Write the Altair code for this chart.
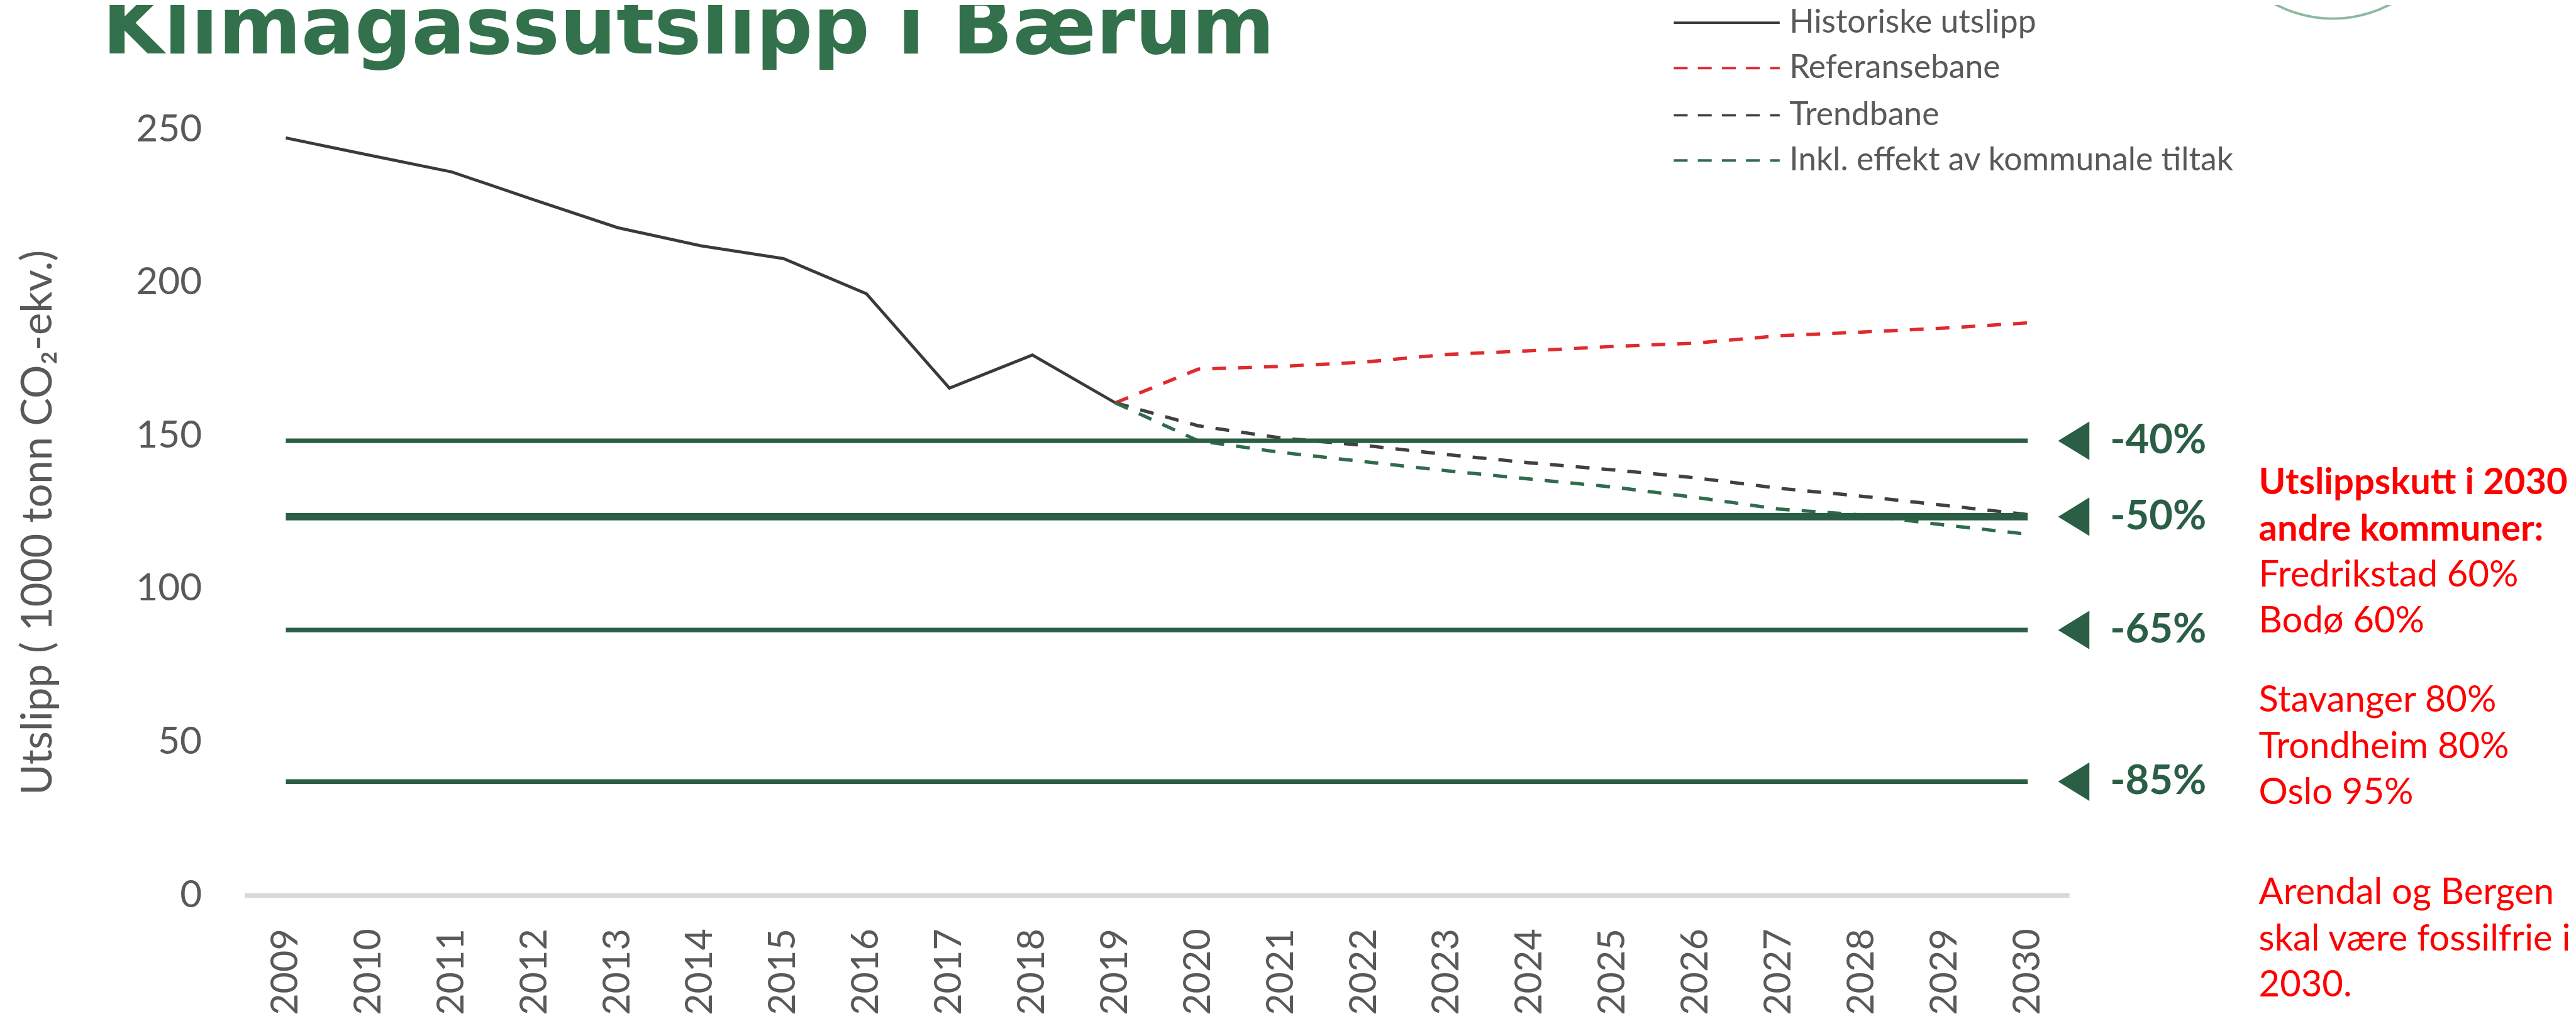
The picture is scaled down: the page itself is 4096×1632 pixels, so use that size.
import math
import altair as alt
import pandas as pd

# ---------------- data ----------------
years = [str(y) for y in range(2009, 2031)]
hist_years = [str(y) for y in range(2009, 2020)]
hist_values = [247.3, 241.7, 236.2, 227.0, 218.0, 212.1, 207.9, 196.4, 165.6, 176.4, 160.8]
proj_years = [str(y) for y in range(2019, 2031)]
ref_values = [160.8, 171.8, 172.7, 174.1, 176.6, 177.8, 179.2, 180.3, 182.7, 183.9, 185.2, 186.9]
trend_values = [160.8, 153.3, 149.3, 146.9, 143.9, 141.2, 138.9, 136.3, 132.9, 130.3, 127.3, 124.3]
tiltak_values = [160.8, 148.4, 144.6, 141.6, 138.6, 135.9, 133.3, 129.9, 126.1, 124.2, 120.9, 117.9]
target_labels = ["-40%", "-50%", "-65%", "-85%"]
target_values = [148.4, 123.6, 86.6, 37.1]
y_ticks = [0, 50, 100, 150, 200, 250]
legend_labels = ["Historiske utslipp", "Referansebane", "Trendbane",
                 "Inkl. effekt av kommunale tiltak"]
note_blocks = [
    "Utslippskutt i 2030\nandre kommuner:",
    "Fredrikstad 60%\nBodø 60%",
    "Stavanger 80%\nTrondheim 80%\nOslo 95%",
    "Arendal og Bergen\nskal være fossilfrie i\n2030.",
]
title_text = "Klimagassutslipp i Bærum"
y_title = "Utslipp  ( 1000 tonn CO₂-ekv.)"

# ---------------- layout (reference pixels -> output) ----------------
S = 0.957
X0, Y0, X1, Y1 = 406, 215.5, 3438, 1488   # plot area in reference pixels
W = (X1 - X0) * S
H = (Y1 - Y0) * S


def rx(x):
    return (x - X0) * S


def ry(y):
    return (y - Y0) * S


FONT = "Lato"
GREEN = "#2B5F45"
GRAY_TXT = "#595959"
C_HIST = "#3A3A3A"
C_REF = "#DF2A2E"
C_TREND = "#404040"
C_TILTAK = "#2F6B4D"

x_enc = alt.X(
    "year:O",
    scale=alt.Scale(type="point", domain=years, padding=0.5),
    axis=alt.Axis(
        title=None, labelAngle=-90, labelFont=FONT, labelFontSize=62 * S,
        labelColor=GRAY_TXT, labelPadding=55 * S, ticks=False, tickSize=0,
        domainColor="#D9D9D9", domainWidth=8 * S, grid=False,
    ),
)
y_enc = alt.Y(
    "value:Q",
    scale=alt.Scale(domain=[0, 250], nice=False, zero=True),
    axis=alt.Axis(
        values=y_ticks, title=y_title, labelFont=FONT, labelFontSize=63 * S,
        labelColor=GRAY_TXT, labelPadding=71 * S, ticks=False, tickSize=0,
        domain=False, grid=False,
        titleFont=FONT, titleFontSize=70 * S, titleFontWeight="normal",
        titleColor=GRAY_TXT, titleAngle=270, titleAlign="center",
        titleBaseline="alphabetic", titleX=rx(85), titleY=ry(868),
    ),
)

DASH = [23 * S, 20 * S]
LW = 5 * S
LW_DASH = 5.6 * S

hist = alt.Chart(pd.DataFrame({"year": hist_years, "value": hist_values})).mark_line(
    color=C_HIST, strokeWidth=LW).encode(x=x_enc, y=y_enc)


def proj(vals, color):
    return alt.Chart(pd.DataFrame({"year": proj_years, "value": vals})).mark_line(
        color=color, strokeWidth=LW_DASH, strokeDash=DASH).encode(x=x_enc, y=y_enc)


ref_line = proj(ref_values, C_REF)
trend_line = proj(trend_values, C_TREND)
tiltak_line = proj(tiltak_values, C_TILTAK)

tgt_df = pd.DataFrame({
    "year": [years[0]] * len(target_values),
    "year_end": [years[-1]] * len(target_values),
    "value": target_values,
    "label": target_labels,
})
rules_thin = alt.Chart(tgt_df).transform_filter(alt.datum.label != "-50%").mark_rule(
    color=GREEN, strokeWidth=7.7 * S).encode(x=x_enc, x2=alt.X2("year_end"), y=y_enc)
rules_thick = alt.Chart(tgt_df).transform_filter(alt.datum.label == "-50%").mark_rule(
    color=GREEN, strokeWidth=12.3 * S).encode(x=x_enc, x2=alt.X2("year_end"), y=y_enc)

arrows = alt.Chart(tgt_df).mark_point(
    shape="M 1 -1.23 L 1 1.23 L -1 0 Z", filled=True, size=(52 * S) ** 2,
    color=GREEN, opacity=1, strokeWidth=0,
).encode(x=alt.value(rx(3445.5)), y=y_enc)

tgt_text = alt.Chart(tgt_df).mark_text(
    align="left", baseline="middle", font=FONT, fontWeight="bold",
    fontSize=68 * S, color=GREEN,
).encode(x=alt.value(rx(3506)), y=y_enc, text="label:N")

one = pd.DataFrame({"k": [0]})

# legend (drawn by hand, top right)
legend_y = [37.7, 113.3, 191.7, 266.7]
legend_col = [C_HIST, C_REF, C_TREND, C_TILTAK]
legend_layers = []
for i, lab in enumerate(legend_labels):
    kw = dict(color=legend_col[i], strokeWidth=4 * S)
    if i > 0:
        kw["strokeDash"] = [23 * S, 17 * S]
    legend_layers.append(
        alt.Chart(one).mark_rule(**kw).encode(
            x=alt.value(rx(2781)), x2=alt.value(rx(2957)), y=alt.value(ry(legend_y[i]))))
    legend_layers.append(
        alt.Chart(one).mark_text(
            align="left", baseline="middle", font=FONT, fontSize=54 * S, color=GRAY_TXT,
        ).encode(x=alt.value(rx(2973)), y=alt.value(ry(legend_y[i])), text=alt.value(lab)))

# red note on the right
note_baselines = [821.7, 975, 1183.3, 1503]
note_layers = []
for i, block in enumerate(note_blocks):
    note_layers.append(
        alt.Chart(one).mark_text(
            align="left", baseline="alphabetic", font=FONT,
            fontWeight="bold" if i == 0 else "normal", fontSize=60.5 * S,
            color="#FF0000", lineBreak="\n", lineHeight=76.7 * S,
        ).encode(x=alt.value(rx(3753)), y=alt.value(ry(note_baselines[i])),
                 text=alt.value(block)))

title = alt.Chart(one).mark_text(
    align="left", baseline="alphabetic", font="DejaVu Sans", fontWeight="bold",
    fontSize=132 * S, color="#32714B",
).encode(x=alt.value(rx(170)), y=alt.value(ry(89)), text=alt.value(title_text))

# partly visible round logo outline at the top right
logo = alt.Chart(one).mark_arc(
    color="#8DB8A0", theta=math.pi - 0.62, theta2=math.pi + 0.62,
    radius=205 * S, radius2=201 * S,
).encode(x=alt.value(rx(3876)), y=alt.value(ry(-172)))

chart = alt.layer(
    hist, ref_line, trend_line, tiltak_line, rules_thin, rules_thick, arrows, tgt_text,
    *legend_layers, *note_layers, title, logo,
).properties(
    width=W, height=H,
    autosize=alt.AutoSizeParams(type="none"),
    padding={"left": X0 * S - 8, "top": Y0 * S - 8,
             "right": 4080 - (X0 * S - 8) - W, "bottom": 1616 - (Y0 * S - 8) - H},
    background="white",
).configure_view(stroke=None)

chart.save("out.html", embed_options={"renderer": "svg", "actions": False})
